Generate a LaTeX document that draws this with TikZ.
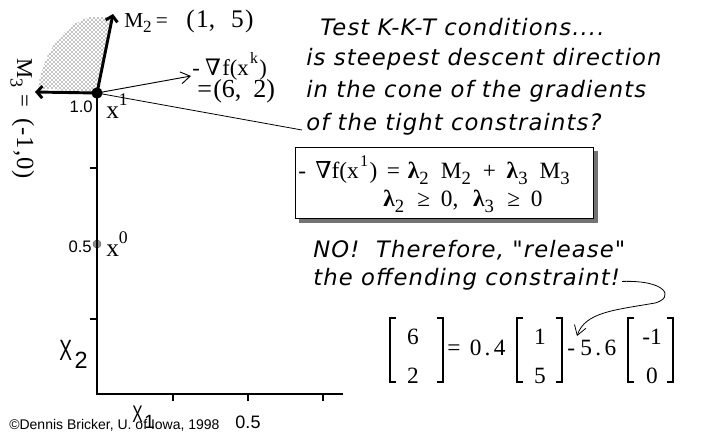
\documentclass[tikz,border=0pt]{standalone}
\usepackage{fontspec}
\usepackage{graphicx}
\setmainfont{Liberation Serif}
\setsansfont{Liberation Sans}
\newfontfamily\itfont{DejaVu Sans}[LetterSpace=5]
\newfontfamily\symfont{DejaVu Serif}
\usetikzlibrary{arrows.meta,patterns}
\newcommand{\sbs}[1]{\raisebox{-0.28em}{\scalebox{0.8}{#1}}}
\newcommand{\sps}[1]{\raisebox{0.5em}{\scalebox{0.7}{#1}}}
\newcommand{\nab}{{\symfont ∇}}
\newcommand{\nX}{\scalebox{0.65}[1]{X}}
\newcommand{\hs}[1]{\hspace{#1pt}}
\tikzset{
  ital/.style={font=\itfont\itshape\fontsize{17}{19}\selectfont, anchor=base west, inner sep=0},
  ser/.style={font=\fontsize{17.5}{19}\selectfont, inner sep=0},
  mat/.style={font=\fontsize{17.5}{19}\selectfont, inner sep=0},
  lab/.style={font=\sffamily\fontsize{12.5}{14}\selectfont, inner sep=0},
  axlab/.style={font=\sffamily\fontsize{22}{24}\selectfont, inner sep=0},
  thickarr/.style={line width=2.2pt, -{Straight Barb[length=4pt,width=9pt]}},
  thinarr/.style={line width=0.7pt, -{Straight Barb[length=7pt,width=9pt]}},
  axis/.style={line width=0.9pt},
  brk/.style={line width=0.8pt},
}
\begin{document}
\begin{tikzpicture}[x=0.75pt,y=-0.75pt]
\useasboundingbox (0,0) rectangle (703,436);
% cone
\fill[pattern=crosshatch dots, pattern color=black] (97,93) -- (112,17) -- (90,17) .. controls (62,26) and (44,52) .. (38,88) -- cycle;
% axes
\coordinate (O) at (97,394);
\coordinate (xend) at (343,394);
\node[circle, fill=black, inner sep=0, minimum size=8.5pt] (x1) at (97,93) {};
\node[circle, fill=black!45, draw=black!60, inner sep=0, minimum size=6pt] (x0) at (97,244) {};
\draw[axis] (x1.center) -- (O) -- (xend);
\foreach \yy in {319,168} \draw[axis] (97,\yy) -- (90,\yy);
\foreach \xx in {173,248,323} \draw[axis] (\xx,394) -- (\xx,401);
% vectors
\coordinate (m2) at (113,14);
\coordinate (m3) at (35,92);
\coordinate (g) at (191,76);
\draw[thickarr] (x1.center) -- (m2);
\draw[thickarr] (x1.center) -- (m3);
\draw[thinarr] (x1.center) -- (g);
% labels
\node[ser, font=\fontsize{16}{18}\selectfont, anchor=base west] (m2l) at (124,27) {M\sbs{2}\hs{3}=\hs{14}{\fontsize{19}{21}\selectfont(\hs{1}1,\hs{12}5\hs{1})}};
\node[ser, font=\fontsize{17}{19}\selectfont, rotate=-90, anchor=base west] (m3l) at (17,58) {M\sbs{3}\hs{5}=\hs{9}{\fontsize{18.5}{21}\selectfont(-\hs{1}1\hs{1},\hs{1}0)}};
\node[ser, font=\fontsize{17}{19}\selectfont, anchor=base west] (gl) at (192,75) {-\hs{4}\nab\hs{1}f(x\hs{1}\sps{k}\hs{1})};
\node[ser, font=\fontsize{19.5}{21}\selectfont, anchor=base west] (gl2) at (197,97) {=\hs{1}(6,\hs{9}2)};
\node[lab, anchor=base east] (l10) at (93,112) {1.0};
\node[ser, font=\fontsize{19}{21}\selectfont, anchor=base west] (x1l) at (106,118) {x\sps{1}};
\node[lab, anchor=base east] (l05) at (92,252) {0.5};
\node[ser, font=\fontsize{19}{21}\selectfont, anchor=base west] (x0l) at (106,256) {x\sps{0}};
\node[axlab, anchor=base west] (x2l) at (59,360) {\nX\hs{2}\sbs{2}};
\node[axlab, font=\sffamily\fontsize{18}{20}\selectfont, anchor=base west] (x1ax) at (132,422) {\nX\hs{1}\sbs{1}};
\node[lab, font=\sffamily\fontsize{13.5}{15}\selectfont, anchor=base] (h05) at (248,428) {0.5};
\node[font=\sffamily\fontsize{10.5}{12}\selectfont, anchor=base west, inner sep=0] (copy) at (9,429) {©Dennis Bricker, U. of Iowa, 1998};
% text
\node[ital] (t1) at (320,35) {Test K-K-T conditions....};
\node[ital] (t2) at (306,65) {is steepest descent direction};
\node[ital] (t3) at (306,97) {in the cone of the gradients};
\node[ital] (t4) at (306,130) {of the tight constraints?};
\coordinate (lt) at ([xshift=-3pt]t4.base west);
\draw[line width=0.6pt] (x1.center) -- (lt);
% box
\fill[black!55] (299,151) rectangle (598,223);
\node[draw, fill=white, line width=0.8pt, minimum width=298*0.75pt, minimum height=71*0.75pt, inner sep=0, anchor=north west] (box) at (295,147) {};
\node[ser, anchor=base west] (e1) at (298,178) {-\hs{7}\nab f(x\hs{1}\sps{1}\hs{1})\hs{7}=\hs{6}\textbf{λ}\sbs{2}\hs{9}M\sbs{2}\hs{9}+\hs{8}\textbf{λ}\sbs{3}\hs{9}M\sbs{3}};
\node[ser, anchor=base west] (e2) at (383,206) {\textbf{λ}\sbs{2}\hs{10}≥\hs{8}0,\hs{11}\textbf{λ}\sbs{3}\hs{10}≥\hs{8}0};
\node[ital] (t5) at (313,257) {NO!\ \ Therefore, "release"};
\node[ital] (t6) at (313,285) {the offending constraint!};
% curved arrow
\coordinate (cs) at ([xshift=1.5pt,yshift=-2pt]t6.east);
\coordinate (ca) at (577,336);
\draw[thinarr, line width=0.6pt] (cs) .. controls (668,280) and (674,298) .. (655,303) .. controls (615,310) and (585,312) .. (ca);
% matrix equation
\foreach \bx/\ex in {390/443, 517/562, 628/673}{
  \draw[brk] (\bx+6,318) -- (\bx,318) -- (\bx,382) -- (\bx+6,382);
  \draw[brk] (\ex-6,318) -- (\ex,318) -- (\ex,382) -- (\ex-6,382);
}
\node[mat] (a1) at (413,337) {6};
\node[mat] (a2) at (413,376) {2};
\node[mat, anchor=west] (eq) at (447,348) {=\hs{7}0\hs{2.5}.\hs{2.5}4};
\node[mat] (b1) at (540,337) {1};
\node[mat] (b2) at (540,376) {5};
\node[mat, anchor=west] (mi) at (567,348) {-\hs{4}5\hs{2.5}.\hs{2.5}6};
\node[mat] (c1) at (652,337) {-1};
\node[mat] (c2) at (652,376) {0};
\end{tikzpicture}
\end{document}
